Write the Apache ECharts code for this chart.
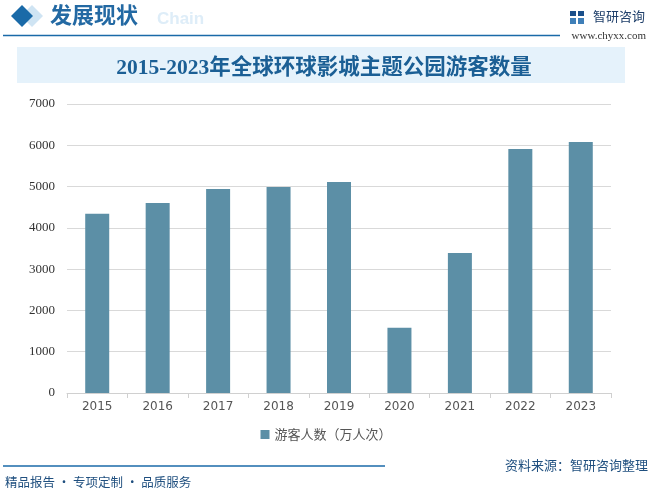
<!DOCTYPE html>
<html>
<head>
<meta charset="utf-8">
<script src="https://cdn.jsdelivr.net/npm/echarts@6/dist/echarts.min.js"></script>
<style>
  html, body { margin: 0; padding: 0; background: #fff; }
  #chart { width: 652px; height: 492px; }
</style>
</head>
<body>
<div id="chart"></div>
<script>
// 年份与游客人数（万人次）
const years = ['2015', '2016', '2017', '2018', '2019', '2020', '2021', '2022', '2023']
const visitors = [4340, 4600, 4940, 4990, 5110, 1580, 3390, 5910, 6080]
const seriesName = '游客人数（万人次）'

const barColor = '#5c8fa6'
const darkBlue = '#1b5f95'

const chart = echarts.init(document.getElementById('chart'))

// 菱形图标
function diamond(cx, cy, r, color) {
  return {
    type: 'polygon',
    shape: { points: [[cx, cy - r], [cx + r, cy], [cx, cy + r], [cx - r, cy]] },
    style: { fill: color }
  }
}

chart.setOption({
  backgroundColor: '#fff',
  animation: false,
  grid: {
    left: 67,
    right: 41,
    top: 104,
    bottom: 99
  },
  legend: {
    bottom: 46,
    left: 'center',
    itemWidth: 9,
    itemHeight: 9,
    icon: 'rect',
    textStyle: {
      color: '#555',
      fontSize: 13,
      fontFamily: 'Noto Sans CJK SC'
    },
    data: [seriesName]
  },
  xAxis: {
    type: 'category',
    data: years,
    axisLine: { lineStyle: { color: '#d0d0d0' } },
    axisTick: { show: true, lineStyle: { color: '#d0d0d0' } },
    axisLabel: {
      color: '#555',
      fontSize: 12,
      fontFamily: 'DejaVu Sans',
      margin: 8
    }
  },
  yAxis: {
    type: 'value',
    min: 0,
    max: 7000,
    interval: 1000,
    axisLine: { show: false },
    axisTick: { show: false },
    axisLabel: {
      color: '#333',
      fontSize: 13,
      fontFamily: 'Liberation Serif',
      margin: 12,
      formatter: v => String(v)
    },
    splitLine: { lineStyle: { color: '#d9d9d9', width: 1 } }
  },
  series: [
    {
      name: seriesName,
      type: 'bar',
      barWidth: 24,
      itemStyle: { color: barColor },
      data: visitors
    }
  ],
  graphic: [
    // 顶部标题栏
    diamond(32, 16, 11, '#cfe4f3'),
    diamond(22, 16, 11, '#1a6aa8'),
    {
      type: 'text',
      x: 157, y: 19,
      style: {
        text: 'Chain',
        fill: '#deedf8',
        font: 'bold 17px "Liberation Sans"',
        textVerticalAlign: 'middle'
      }
    },
    {
      type: 'text',
      x: 50, y: 15,
      style: {
        text: '发展现状',
        fill: '#2369a3',
        font: 'bold 22px "Noto Sans CJK SC"',
        textVerticalAlign: 'middle'
      }
    },
    {
      type: 'line',
      shape: { x1: 3, y1: 35.5, x2: 560, y2: 35.5 },
      style: { stroke: '#1a6aa8', lineWidth: 1.5 }
    },
    // 右上角 logo
    {
      type: 'rect',
      shape: { x: 570, y: 11, width: 6, height: 5 },
      style: { fill: '#1a4f8a' }
    },
    {
      type: 'rect',
      shape: { x: 578, y: 11, width: 6, height: 5 },
      style: { fill: '#1a4f8a' }
    },
    {
      type: 'rect',
      shape: { x: 570, y: 18, width: 6, height: 6 },
      style: { fill: '#3f7fb8' }
    },
    {
      type: 'rect',
      shape: { x: 578, y: 18, width: 6, height: 6 },
      style: { fill: '#3f7fb8' }
    },
    {
      type: 'text',
      x: 593, y: 16,
      style: {
        text: '智研咨询',
        fill: '#1f3f6a',
        font: '13px "Noto Sans CJK SC"',
        textVerticalAlign: 'middle'
      }
    },
    {
      type: 'text',
      x: 646, y: 36,
      style: {
        text: 'www.chyxx.com',
        fill: '#333',
        font: '11px "Liberation Serif"',
        textAlign: 'right',
        textVerticalAlign: 'middle'
      }
    },
    // 图表标题
    {
      type: 'rect',
      shape: { x: 17, y: 47, width: 608, height: 36 },
      style: { fill: '#e5f2fb' }
    },
    {
      type: 'text',
      x: 324, y: 68,
      style: {
        text: '2015-2023年全球环球影城主题公园游客数量',
        fill: darkBlue,
        font: 'bold 21.5px "Liberation Serif", "Noto Sans CJK SC", serif',
        textAlign: 'center',
        textVerticalAlign: 'middle'
      }
    },
    // 底部
    {
      type: 'line',
      shape: { x1: 3, y1: 466, x2: 385, y2: 466 },
      style: { stroke: '#1a6aa8', lineWidth: 1.5 }
    },
    {
      type: 'text',
      x: 648, y: 465,
      style: {
        text: '资料来源：智研咨询整理',
        fill: '#1f4f7f',
        font: '13px "Noto Sans CJK SC"',
        textAlign: 'right',
        textVerticalAlign: 'middle'
      }
    },
    {
      type: 'text',
      x: 5, y: 482,
      style: {
        text: '精品报告 · 专项定制 · 品质服务',
        fill: '#1f4f7f',
        font: '12.5px "Noto Sans CJK SC"',
        textVerticalAlign: 'middle'
      }
    }
  ]
})
</script>
</body>
</html>
